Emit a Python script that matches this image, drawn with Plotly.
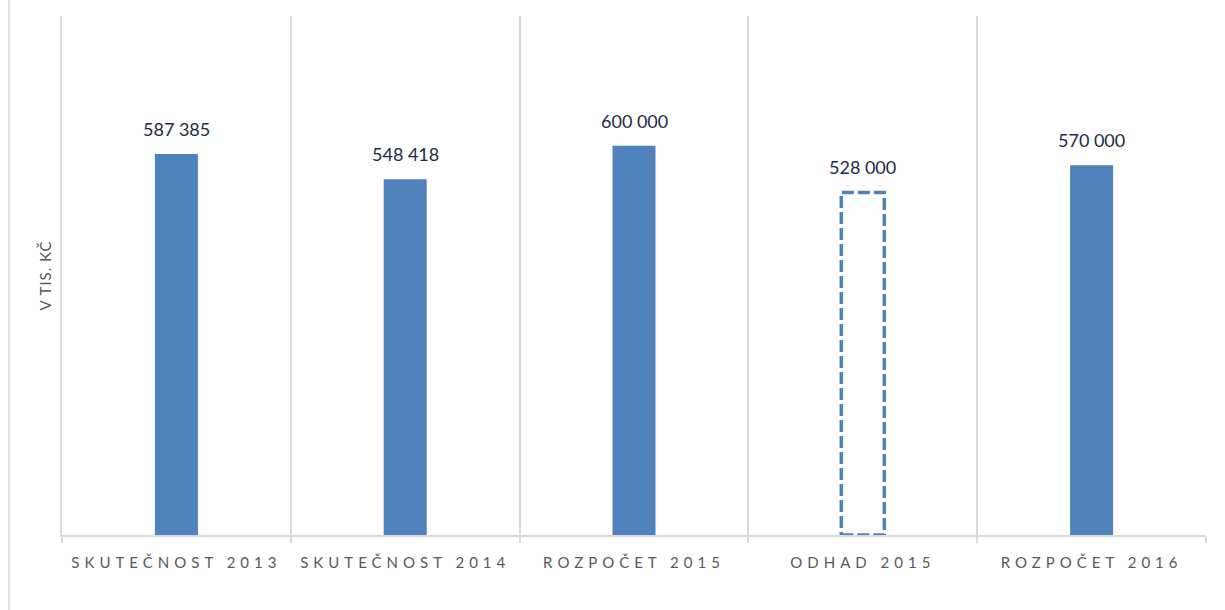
import plotly.graph_objects as go

categories = ["SKUTEČNOST 2013", "SKUTEČNOST 2014", "ROZPOČET 2015", "ODHAD 2015", "ROZPOČET 2016"]
values = [587385, 548418, 600000, 528000, 570000]
estimate_flags = [False, False, False, True, False]
y_title = "V TIS. KČ"

BAR_COLOR = "#4F81BD"
GRID = "#D9D9D9"
LABEL_COLOR = "#1E2B47"
AXIS_TEXT = "#595959"
BAR_W = 0.188

W, H = 1225, 610
ML, MR, MT, MB = 62, 19, 16, 75

fills = ["rgba(0,0,0,0)" if f else BAR_COLOR for f in estimate_flags]

fig = go.Figure()
fig.add_trace(go.Bar(
    x=categories, y=values, width=[BAR_W] * len(values),
    marker=dict(color=fills, line=dict(width=0)),
    hoverinfo="x+y", showlegend=False,
))

def fmt(v):
    return f"{v:,}".replace(",", " ")

for i, (c, v) in enumerate(zip(categories, values)):
    fig.add_annotation(x=c, y=v, text=fmt(v), showarrow=False, yanchor="bottom",
                       yshift=12, font=dict(family="Lato, Open Sans, sans-serif", size=18, color=LABEL_COLOR))
    if estimate_flags[i]:
        fig.add_shape(type="rect", xref="x", yref="y", x0=i - BAR_W / 2, x1=i + BAR_W / 2,
                      y0=0, y1=v, line=dict(color=BAR_COLOR, width=3.5, dash="12px,4px"),
                      fillcolor="rgba(0,0,0,0)", layer="above")

pw = W - ML - MR
ph = H - MT - MB
fig.add_shape(type="line", xref="paper", yref="paper",
              x0=(9 - ML) / pw, x1=(9 - ML) / pw, y0=-MB / ph, y1=(ph + MT) / ph,
              line=dict(color=GRID, width=1.5))

fig.update_layout(
    width=W, height=H,
    margin=dict(l=ML, r=MR, t=MT, b=MB),
    plot_bgcolor="white", paper_bgcolor="white",
    font=dict(family="Lato, Open Sans, sans-serif", color=AXIS_TEXT),
    xaxis=dict(
        type="category", tickson="boundaries", showgrid=True, gridcolor=GRID, gridwidth=1.5,
        ticks="outside", ticklen=6, tickcolor=GRID, tickwidth=1.5,
        showline=True, linecolor=GRID, linewidth=1.5,
        tickfont=dict(size=15, color=AXIS_TEXT), range=[-0.5, 4.5],
        ticklabelstandoff=13,
    ),
    yaxis=dict(
        range=[0, 800000], showgrid=False, showticklabels=False, zeroline=False,
        showline=True, linecolor=GRID, linewidth=1.5, ticks="",
        title=dict(text=y_title, font=dict(size=15, color=AXIS_TEXT), standoff=5),
    ),
)

post = """
var s=document.createElement('style');
s.innerHTML='body{margin:0;padding:0;} .xtick text{letter-spacing:5px;} .ytitle{letter-spacing:1px;}';
document.head.appendChild(s);
"""
fig.write_html("out.html", post_script=post, config={"displayModeBar": False})
